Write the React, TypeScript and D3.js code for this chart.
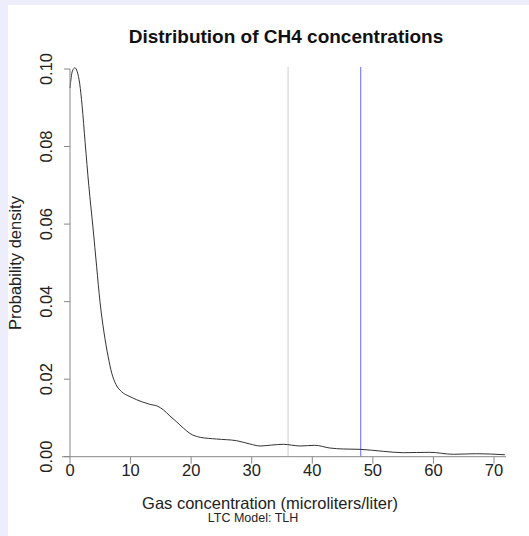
import React from "react";
import * as d3 from "d3";

// Kernel density estimate of CH4 concentrations (microliters/liter)
const gasX = [
  0, 0.4, 0.8, 1.2, 1.6, 2.0, 2.5, 3.1, 3.8, 4.4, 4.95, 5.6, 6.3, 6.9, 7.6, 8.5,
  9.9, 11.0, 12.0, 13.2, 14.5, 15.4, 16.5, 17.6, 18.7, 19.8, 21.5, 24.2, 27.5,
  29.7, 31.4, 33.3, 35.2, 38.0, 40.4, 42.9, 45.1, 47.9, 51.7, 55.0, 59.4, 63.3,
  67.1, 71.8,
];
const density = [
  0.0951, 0.0995, 0.1003, 0.0993, 0.0962, 0.0905, 0.081, 0.07, 0.059, 0.049,
  0.04, 0.0322, 0.0258, 0.0215, 0.0186, 0.0168, 0.0155, 0.0147, 0.0141, 0.0135,
  0.013, 0.0121, 0.0105, 0.009, 0.0074, 0.006, 0.005, 0.00456, 0.00413,
  0.00328, 0.00276, 0.003, 0.0032, 0.00276, 0.00294, 0.00224, 0.00199, 0.0019,
  0.00139, 0.00103, 0.00113, 0.00062, 0.00077, 0.0005,
];

const xTicks = [0, 10, 20, 30, 40, 50, 60, 70];
const yTicks = [0, 0.02, 0.04, 0.06, 0.08, 0.1];
const refLines = [
  { value: 36, color: "#cccccc" },
  { value: 48, color: "#6666ff" },
];

const W = 529;
const H = 536;
const FONT = "'Liberation Sans', Arial, Helvetica, sans-serif";

export default function App() {
  const x = d3.scaleLinear().domain([0, 70]).range([70, 494]);
  const y = d3.scaleLinear().domain([0, 0.1]).range([456.7, 69]);
  const pts = gasX.map((g, i) => [g, density[i]] as [number, number]);
  const line = d3
    .line<[number, number]>()
    .x((d) => x(d[0]))
    .y((d) => y(d[1]))
    .curve(d3.curveMonotoneX);

  const axisColor = "#888888";
  const y0 = y(0);

  return (
    <svg
      width={W}
      height={H}
      style={{ position: "absolute", left: 0, top: 0 }}
      fontFamily={FONT}
    >
      <rect x={0} y={0} width={W} height={H} fill="#ededfb" />
      <rect x={8} y={5} width={W - 8} height={H - 5} fill="#ffffff" />

      {/* reference lines */}
      {refLines.map((r) => (
        <line
          key={r.value}
          x1={x(r.value)}
          x2={x(r.value)}
          y1={67}
          y2={y0}
          stroke={r.color}
          strokeWidth={1}
        />
      ))}

      {/* density curve */}
      <path d={line(pts) ?? ""} fill="none" stroke="#333333" strokeWidth={1} />

      {/* x axis */}
      <line x1={62} x2={506} y1={y0} y2={y0} stroke={axisColor} strokeWidth={1} />
      {xTicks.map((t) => (
        <g key={t}>
          <line x1={x(t)} x2={x(t)} y1={y0} y2={y0 + 7} stroke={axisColor} />
          <text
            x={x(t)}
            y={476}
            textAnchor="middle"
            fontSize={16.5}
            fill="#222"
          >
            {t}
          </text>
        </g>
      ))}

      {/* y axis */}
      <line x1={x(0)} x2={x(0)} y1={y(0)} y2={y(0.1)} stroke={axisColor} strokeWidth={1} />
      {yTicks.map((t) => (
        <g key={t}>
          <line x1={x(0) - 6} x2={x(0)} y1={y(t)} y2={y(t)} stroke={axisColor} />
          <text
            transform={`translate(52,${y(t)}) rotate(-90)`}
            textAnchor="middle"
            fontSize={16.5}
            fill="#222"
          >
            {t.toFixed(2)}
          </text>
        </g>
      ))}

      <text
        x={286}
        y={43}
        textAnchor="middle"
        fontSize={19}
        fontWeight="bold"
        fill="#111"
      >
        Distribution of CH4 concentrations
      </text>
      <text x={270} y={509} textAnchor="middle" fontSize={16.5} fill="#222">
        Gas concentration (microliters/liter)
      </text>
      <text x={253} y={522} textAnchor="middle" fontSize={12.5} fill="#222">
        LTC Model: TLH
      </text>
      <text
        transform={`translate(21,263) rotate(-90)`}
        textAnchor="middle"
        fontSize={16.5}
        fill="#222"
      >
        Probability density
      </text>
    </svg>
  );
}
